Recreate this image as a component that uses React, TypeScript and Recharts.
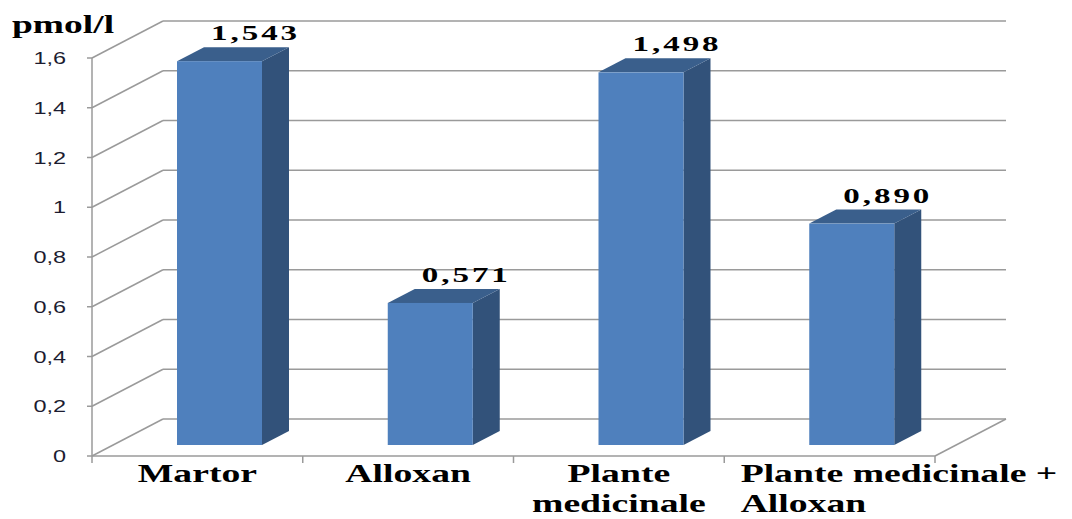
import { BarChart, Bar, XAxis, YAxis, CartesianGrid, LabelList, Label } from "recharts";

// groups on the x axis, with the way each name wraps under the floor
const groups = ["Martor", "Alloxan", "Plante medicinale", "Plante medicinale + Alloxan"];
const groupLines = [["Martor"], ["Alloxan"], ["Plante", "medicinale"], ["Plante medicinale +", "Alloxan"]];
const values = [1.543, 0.571, 1.498, 0.89];
const yTicks = [0, 0.2, 0.4, 0.6, 0.8, 1, 1.2, 1.4, 1.6];
const unit = "pmol/l";

const data = groups.map((name, i) => ({ name, value: values[i] }));

// fake 3D: depth of the walls, where the bars stand, and how deep they are
const WALL = { dx: 71, dy: 37 };
const BAR_SHIFT = { dx: 22, dy: 11 };
const BAR_DEPTH = { dx: 27, dy: 14 };

const LINE = "#9a9a9a";
const SERIF = "'Liberation Serif', 'Times New Roman', serif";
const SANS = "'Liberation Sans', Arial, sans-serif";

const comma = (v: number, digits?: number) =>
  (digits === undefined ? String(v) : v.toFixed(digits)).replace(".", ",");

// each grid line becomes a left-wall diagonal plus a back-wall line
function WallLine(props: any) {
  const { x1, x2, y1, y, height, index } = props;
  const bottom =
    typeof y === "number" && typeof height === "number" ? Math.abs(y1 - (y + height)) < 1 : index === 0;
  const bx1 = x1 + WALL.dx;
  const bx2 = x2 + WALL.dx;
  const by = y1 - WALL.dy;
  const band = (x2 - x1) / groups.length;
  return (
    <g key={`wall-${index}`}>
      <line x1={x1} y1={y1} x2={bx1} y2={by} stroke={LINE} strokeWidth={1.5} />
      <line x1={bx1} y1={by} x2={bx2} y2={by} stroke={LINE} strokeWidth={1.5} />
      {bottom && (
        <g>
          <line x1={x2} y1={y1} x2={bx2} y2={by} stroke={LINE} strokeWidth={1.5} />
          {groups.concat("").map((_, i) => (
            <line key={i} x1={x1 + i * band} y1={y1} x2={x1 + i * band} y2={y1 + 7} stroke={LINE} strokeWidth={1.5} />
          ))}
        </g>
      )}
    </g>
  );
}

function Bar3D({ x, y, width, height }: any) {
  const fx = x + BAR_SHIFT.dx;
  const fy = y - BAR_SHIFT.dy;
  const { dx, dy } = BAR_DEPTH;
  return (
    <g>
      <polygon
        points={`${fx + width},${fy} ${fx + width + dx},${fy - dy} ${fx + width + dx},${fy + height - dy} ${fx + width},${fy + height}`}
        fill="#32527A"
      />
      <polygon
        points={`${fx},${fy} ${fx + dx},${fy - dy} ${fx + width + dx},${fy - dy} ${fx + width},${fy}`}
        fill="#3A5F8C"
      />
      <rect x={fx} y={fy} width={width} height={height} fill="#4F80BD" />
    </g>
  );
}

function ValueLabel({ x, y, width, value }: any) {
  const cx = x + BAR_SHIFT.dx + width / 2 + 36;
  const top = y - BAR_SHIFT.dy;
  return (
    <text
      transform={`translate(${cx},${top - 21}) scale(1.5,1)`}
      textAnchor="middle"
      fontFamily={SERIF}
      fontWeight="bold"
      fontSize={22}
      letterSpacing={2}
      fill="#000"
    >
      {comma(value, 3)}
    </text>
  );
}

function YTick({ x, y, payload }: any) {
  return (
    <text
      transform={`translate(${x},${y}) scale(1.38,1)`}
      textAnchor="end"
      dy="0.36em"
      fontFamily={SANS}
      fontSize={17}
      fill="#1c1c30"
    >
      {comma(payload.value)}
    </text>
  );
}

function GroupTick({ x, y, payload }: any) {
  const lines = groupLines[groups.indexOf(payload.value)] ?? [payload.value];
  // long names run past their slot, so they start near its left edge instead
  const wide = lines.some((l) => l.length > 12);
  return (
    <g transform={`translate(${wide ? x - 89 : x},${y})`}>
      {lines.map((line, i) => (
        <text
          key={i}
          transform={`translate(0,${26 + i * 30}) scale(1.45,1)`}
          textAnchor={wide ? "start" : "middle"}
          fontFamily={SERIF}
          fontWeight="bold"
          fontSize={26}
          fill="#000"
        >
          {line}
        </text>
      ))}
    </g>
  );
}

export default function App() {
  return (
    <div style={{ position: "absolute", left: 0, top: 0, background: "#fff" }}>
      <BarChart width={1072} height={519} data={data} margin={{ top: 58, right: 137, left: 0, bottom: 0 }}>
        <CartesianGrid vertical={false} horizontal={WallLine} />
        <XAxis
          dataKey="name"
          height={63}
          interval={0}
          tickLine={false}
          tickSize={0}
          tickMargin={0}
          axisLine={{ stroke: LINE, strokeWidth: 1.5 }}
          tick={GroupTick}
        />
        <YAxis
          width={92}
          domain={[0, 1.6]}
          ticks={yTicks}
          interval={0}
          tickSize={5}
          tickMargin={21}
          axisLine={{ stroke: LINE, strokeWidth: 1.5 }}
          tickLine={{ stroke: LINE, strokeWidth: 1.5 }}
          tick={YTick}
        >
          <Label
            content={({ viewBox }: any) => (
              <text
                transform={`translate(${(viewBox?.x ?? 0) + 12},${(viewBox?.y ?? 58) - 25}) scale(1.5,1)`}
                fontFamily={SERIF}
                fontWeight="bold"
                fontSize={25}
                fill="#000"
              >
                {unit}
              </text>
            )}
          />
        </YAxis>
        <Bar dataKey="value" barSize={85} shape={Bar3D} isAnimationActive={false}>
          <LabelList dataKey="value" content={ValueLabel} />
        </Bar>
      </BarChart>
    </div>
  );
}
